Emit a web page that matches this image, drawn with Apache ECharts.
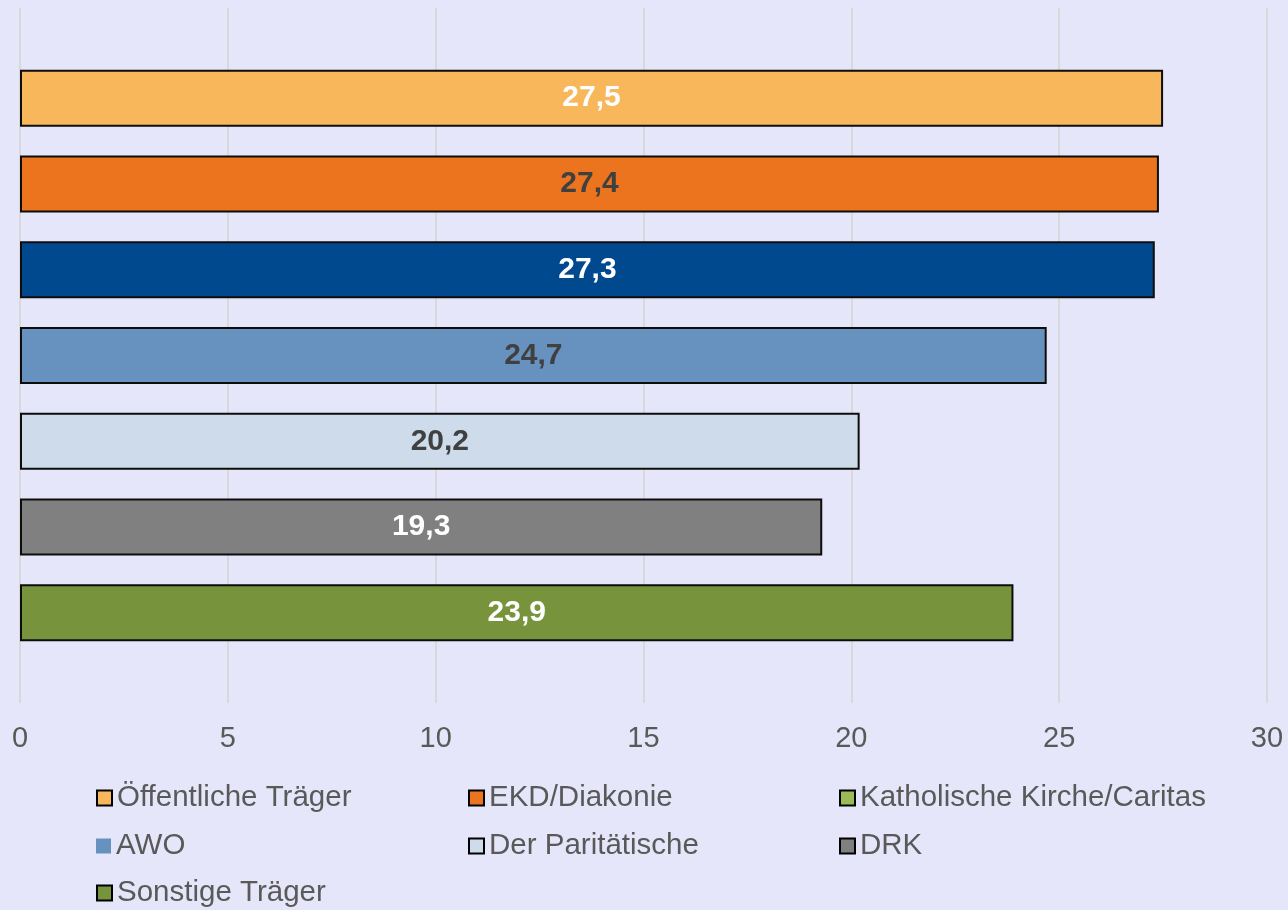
<!DOCTYPE html>
<html>
<head>
<meta charset="utf-8">
<script src="https://cdn.jsdelivr.net/npm/echarts@6/dist/echarts.min.js"></script>
<style>
  html, body { margin: 0; padding: 0; background: #E6E6FA; }
  #chartBox { width: 1288px; height: 910px; }
</style>
</head>
<body>
<div id="chartBox"></div>
<script>
// Träger und Werte
const traeger = ['Öffentliche Träger', 'EKD/Diakonie', 'Katholische Kirche/Caritas', 'AWO', 'Der Paritätische', 'DRK', 'Sonstige Träger'];
const werte = [27.5, 27.4, 27.3, 24.7, 20.2, 19.3, 23.9];
// Farben der Legende und der Balken (Caritas-Balken ist im Original dunkelblau)
const legendFarben = ['#F8B75A', '#EC741E', '#9BBB59', '#6792BF', '#CDDBEA', '#808080', '#77933C'];
const balkenFarben = ['#F8B75A', '#EC741E', '#00498F', '#6792BF', '#CDDBEA', '#808080', '#77933C'];
const labelFarben = ['#FFFFFF', '#404040', '#FFFFFF', '#404040', '#404040', '#FFFFFF', '#FFFFFF'];
const achseMin = 0, achseMax = 30, achseSchritt = 5;

const font = '"Liberation Sans", Arial, sans-serif';
let myChart = echarts.init(document.getElementById('chartBox'));

let series = traeger.map(function (name, i) {
	let randLegende = (name === 'AWO') ? 0 : 1.5;
	return {
		name: name,
		type: 'bar',
		barWidth: 57,
		barGap: '50.5%',
		itemStyle: {
			color: legendFarben[i],
			borderColor: '#000000',
			borderWidth: randLegende
		},
		label: {
			show: true,
			position: 'inside',
			color: labelFarben[i],
			fontFamily: font,
			fontWeight: 'bold',
			fontSize: 30,
			formatter: function (p) { return p.value.toFixed(1).replace('.', ','); }
		},
		data: [{
			value: werte[i],
			itemStyle: { color: balkenFarben[i], borderColor: '#0D0D0D', borderWidth: 2 }
		}]
	};
});

// Legende: drei Spalten, drei Zeilen, je ein Eintrag pro Komponente
const spaltenX = [91, 463, 834];
const zeilenY = [778, 826, 873];
let legenden = traeger.map(function (name, i) {
	return {
		left: spaltenX[i % 3],
		top: zeilenY[Math.floor(i / 3)],
		itemWidth: 15,
		itemHeight: 15,
		icon: 'rect',
		textStyle: { color: '#595959', fontSize: 29.5, fontFamily: font },
		data: [name]
	};
});

let option = {
	backgroundColor: '#E6E6FA',
	animation: false,
	grid: { left: 20, right: 21, top: 8, bottom: 207 },
	legend: legenden,
	xAxis: {
		type: 'value',
		min: achseMin,
		max: achseMax,
		interval: achseSchritt,
		axisLine: { show: false },
		axisTick: { show: false },
		axisLabel: { color: '#595959', fontSize: 29, fontFamily: font, margin: 21 },
		splitLine: { lineStyle: { color: '#D9D9D9', width: 2 } }
	},
	yAxis: {
		type: 'category',
		inverse: true,
		data: [''],
		axisLine: { show: false },
		axisTick: { show: false },
		axisLabel: { show: false }
	},
	series: series
};
myChart.setOption(option, true);
</script>
</body>
</html>
